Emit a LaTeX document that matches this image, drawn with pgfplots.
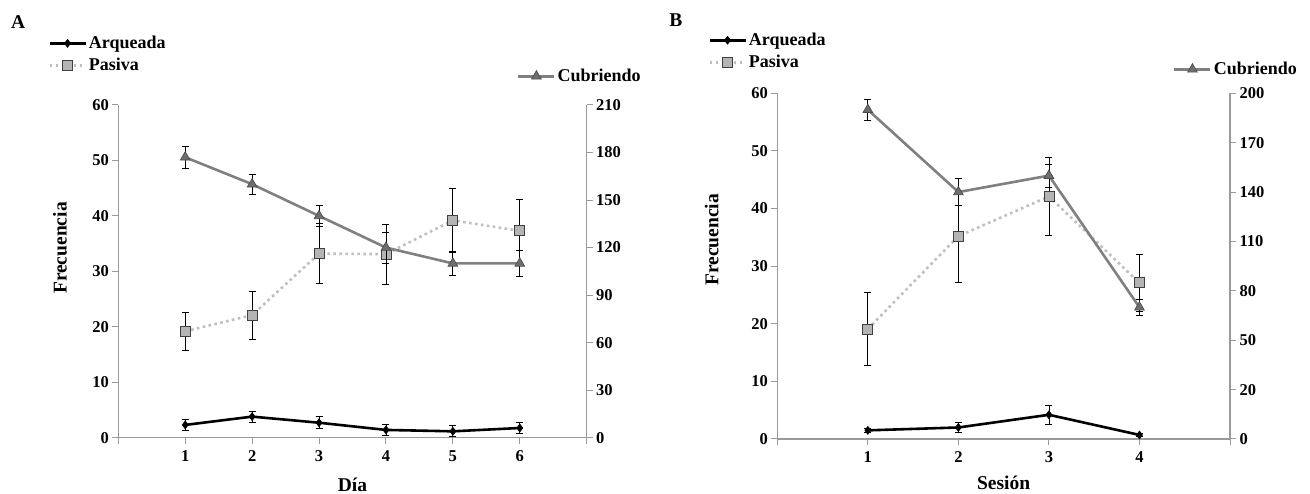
\documentclass[border=0pt]{standalone}
\usepackage{pgfplots}
\pgfplotsset{compat=1.18}
\usepackage{pgfplotstable}
\usepackage{fontspec}
\setmainfont{Liberation Serif}

\definecolor{axisgray}{HTML}{9A9A9A}
\definecolor{pasline}{HTML}{BFBFBF}
\definecolor{pasfill}{HTML}{B4B4B4}
\definecolor{cubline}{HTML}{808080}
\definecolor{cubfill}{HTML}{6E6E6E}

% Panel A: means and errors per day
\pgfplotstableread{
x  arq  arqe pas  pase cub cube
1  2.3  1.0  19.2 3.4  177 6.9
2  3.8  1.0  22.1 4.3  160 6.5
3  2.7  1.1  33.2 5.4  140 6.6
4  1.4  1.0  33.1 5.4  120 9.7
5  1.15 1.0  39.2 5.8  110 7.4
6  1.75 1.05 37.3 5.7  110 8.0
}\diaData

% Panel B: means and errors per session
\pgfplotstableread{
x  arq  arqe pas  pase cub cube
1  1.5  0.3  19.1 6.4  190 6.3
2  2.0  0.85 35.2 8.0  140 8.1
3  4.2  1.6  42.1 6.8  150 7.1
4  0.7  0.2  27.1 4.9  70  5.0
}\sesData

\newcommand{\tickfont}{\fontsize{16.5}{16.5}\selectfont\bfseries}
\newcommand{\legfont}{\fontsize{18}{18}\selectfont\bfseries}
\newcommand{\labfont}{\fontsize{19.5}{19.5}\selectfont\bfseries}

\pgfplotsset{
  base/.style={
    scale only axis, clip=false,
    axis line style={-, draw=axisgray, line width=1.1pt},
    tick style={draw=axisgray, line width=1pt},
    major tick length=6pt, tick align=outside,
    /pgf/number format/assume math mode=true,
    xticklabel style={font=\tickfont, text=black, yshift=-3pt},
    yticklabel style={font=\tickfont, text=black},
    yticklabel={\textbf{\pgfmathprintnumber{\tick}}},
    legend style={draw=none, fill=none, inner sep=0pt, anchor=north west,
      font=\legfont, row sep=4pt, legend cell align=left},
    legend image code/.code={%
      \draw[mark repeat=2,mark phase=2] plot coordinates {(0pt,0pt) (18pt,0pt) (36pt,0pt)};},
  },
  leftax/.style={base, axis x line*=bottom, axis y line*=left,
    ylabel={Frecuencia}, ylabel style={font=\labfont},
    xlabel style={font=\labfont}},
  rightax/.style={base, axis x line=none, axis y line*=right},
  ebar/.style={error bars/.cd, y dir=both, y explicit,
    error bar style={black, line width=0.75pt, solid},
    error mark options={black, line width=0.75pt, mark size=3.5pt, rotate=90, solid}},
  arqstyle/.style={black, line width=2.6pt, mark=diamond*, mark size=4pt,
    mark options={solid, fill=black, line width=0.6pt}},
  passtyle/.style={pasline, line width=2.6pt, dash pattern=on 2.6pt off 3.4pt,
    mark=square*, mark size=5pt,
    mark options={solid, fill=pasfill, draw=black!75, line width=0.8pt}},
  cubstyle/.style={cubline, line width=2.6pt, mark=triangle*, mark size=5.6pt,
    mark options={solid, fill=cubfill, draw=black!70, line width=0.7pt}},
}

\begin{document}
\begin{tikzpicture}
\useasboundingbox (0,0) rectangle (1310pt,494pt);

% ---------- Panel A ----------
\begin{axis}[leftax, at={(118.3pt,56.3pt)}, anchor=south west,
  width=468.4pt, height=332.7pt,
  xmin=0, xmax=7, ymin=0, ymax=60, ytick={0,10,...,60},
  xtick={0,...,7}, xticklabels={{},\textbf{1},\textbf{2},\textbf{3},\textbf{4},\textbf{5},\textbf{6},{}},
  xlabel={Día},
  xlabel style={at={(axis description cs:0.5,-0.142)}, anchor=center},
  ylabel style={at={(axis description cs:-0.1245,0.570)}, anchor=center},
  legend style={at={(-0.150,1.213)}}]
\addplot[arqstyle, ebar] table[x=x, y=arq, y error=arqe] {\diaData};
\addlegendentry{Arqueada}
\addplot[passtyle, ebar] table[x=x, y=pas, y error=pase] {\diaData};
\addlegendentry{Pasiva}
\node[font=\labfont] at (axis description cs:-0.214,1.2495) {A};
\end{axis}
\begin{axis}[rightax, at={(118.3pt,56.3pt)}, anchor=south west,
  width=468.4pt, height=332.7pt,
  xmin=0, xmax=7, ymin=0, ymax=210, ytick={0,30,...,210},
  legend style={at={(0.851,1.114)}}]
\addplot[cubstyle, ebar] table[x=x, y=cub, y error=cube] {\diaData};
\addlegendentry{Cubriendo}
\end{axis}

% ---------- Panel B ----------
\begin{axis}[leftax, at={(777.3pt,55pt)}, anchor=south west,
  width=452.7pt, height=345.7pt,
  xmin=0, xmax=5, ymin=0, ymax=60, ytick={0,10,...,60},
  xtick={0,...,5}, xticklabels={{},\textbf{1},\textbf{2},\textbf{3},\textbf{4},{}},
  xlabel={Sesión},
  xlabel style={at={(axis description cs:0.5,-0.127)}, anchor=center},
  ylabel style={at={(axis description cs:-0.145,0.576)}, anchor=center},
  legend style={at={(-0.153,1.180)}}]
\addplot[arqstyle, ebar] table[x=x, y=arq, y error=arqe] {\sesData};
\addlegendentry{Arqueada}
\addplot[passtyle, ebar] table[x=x, y=pas, y error=pase] {\sesData};
\addlegendentry{Pasiva}
\node[font=\labfont] at (axis description cs:-0.224,1.212) {B};
\end{axis}
\begin{axis}[rightax, at={(777.3pt,55pt)}, anchor=south west,
  width=452.7pt, height=345.7pt,
  xmin=0, xmax=5, ymin=-10, ymax=200,
  ytick={-10,20,50,80,110,140,170,200},
  yticklabels={\textbf{0},\textbf{20},\textbf{50},\textbf{80},\textbf{110},\textbf{140},\textbf{170},\textbf{200}},
  legend style={at={(0.874,1.096)}}]
\addplot[cubstyle, ebar] table[x=x, y=cub, y error=cube] {\sesData};
\addlegendentry{Cubriendo}
\end{axis}
\end{tikzpicture}
\end{document}
